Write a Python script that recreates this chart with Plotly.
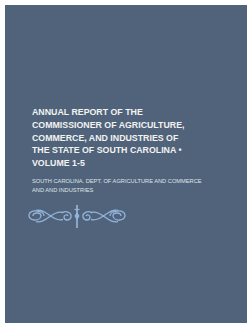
import plotly.graph_objects as go

W, H = 247, 323
BG = "#50637a"
ORN = "#93b4db"

title_lines = [
    "ANNUAL REPORT OF THE",
    "COMMISSIONER OF AGRICULTURE,",
    "COMMERCE, AND INDUSTRIES OF",
    "THE STATE OF SOUTH CAROLINA •",
    "VOLUME 1-5",
]
title_y = [112, 125, 137.5, 150, 162.5]
author_lines = [
    "SOUTH CAROLINA. DEPT. OF AGRICULTURE AND COMMERCE",
    "AND AND INDUSTRIES",
]
author_y = [181, 189.5]

fig = go.Figure()
fig.add_trace(go.Scatter(x=[0, W], y=[0, H], mode="markers", marker=dict(opacity=0), hoverinfo="skip", showlegend=False))

shapes = [dict(type="rect", x0=5, y0=5, x1=W + 10, y1=H + 10, fillcolor=BG, line=dict(width=0), layer="below")]

def mirror(path_pts, cx=77):
    return [(2 * cx - x, y) for x, y in path_pts]

def cpath(pts):
    s = "M %g %g" % pts[0]
    for i in range(1, len(pts), 3):
        a, b, c = pts[i:i + 3]
        s += " C %g %g, %g %g, %g %g" % (a + b + c)
    return s

outer_spiral = [(44, 216), (44, 210), (30, 209), (29, 215), (28, 221), (40, 222), (41, 216),
                (41, 212), (33, 212), (33, 216)]
upper_sweep = [(36, 210.3), (46, 208), (52, 222), (63, 219.5)]
lower_sweep = [(36, 221.7), (46, 224), (52, 210), (63, 212.5)]
center_spiral = [(62, 213), (66, 210), (72, 213), (71, 217), (70, 221), (64, 221), (64, 217),
                 (64, 215), (67, 214), (68, 216)]
for p in [outer_spiral, upper_sweep, lower_sweep, center_spiral]:
    for q in [p, mirror(p)]:
        shapes.append(dict(type="path", path=cpath(q), line=dict(color=ORN, width=1.3)))

shapes.append(dict(type="line", x0=77, y0=205, x1=77, y1=228, line=dict(color=ORN, width=1.7)))
shapes.append(dict(type="line", x0=74.5, y0=209.5, x1=79.5, y1=209.5, line=dict(color=ORN, width=1.2)))
shapes.append(dict(type="path", path="M 77 212.5 L 79 216 L 77 219.5 L 75 216 Z", fillcolor=ORN, line=dict(color=ORN, width=1)))

annotations = []
for t, y in zip(title_lines, title_y):
    annotations.append(dict(x=30, y=y, text="<b>" + t + "</b>", showarrow=False, xanchor="left", yanchor="middle",
                            font=dict(family="Liberation Sans", size=8.8, color="#f2f2f2"), xref="x", yref="y"))
for t, y in zip(author_lines, author_y):
    annotations.append(dict(x=30, y=y, text=t, showarrow=False, xanchor="left", yanchor="middle",
                            font=dict(family="Liberation Sans", size=5.7, color="#dfe4ea"), xref="x", yref="y"))

fig.update_layout(
    width=W, height=H, margin=dict(l=0, r=0, t=0, b=0),
    paper_bgcolor="white", plot_bgcolor="white",
    xaxis=dict(range=[0, W], visible=False, fixedrange=True),
    yaxis=dict(range=[H, 0], visible=False, fixedrange=True),
    shapes=shapes, annotations=annotations, showlegend=False,
)
fig.write_html("out.html", config={"displayModeBar": False},
               post_script="document.body.style.margin='0';document.body.style.overflow='hidden';")
